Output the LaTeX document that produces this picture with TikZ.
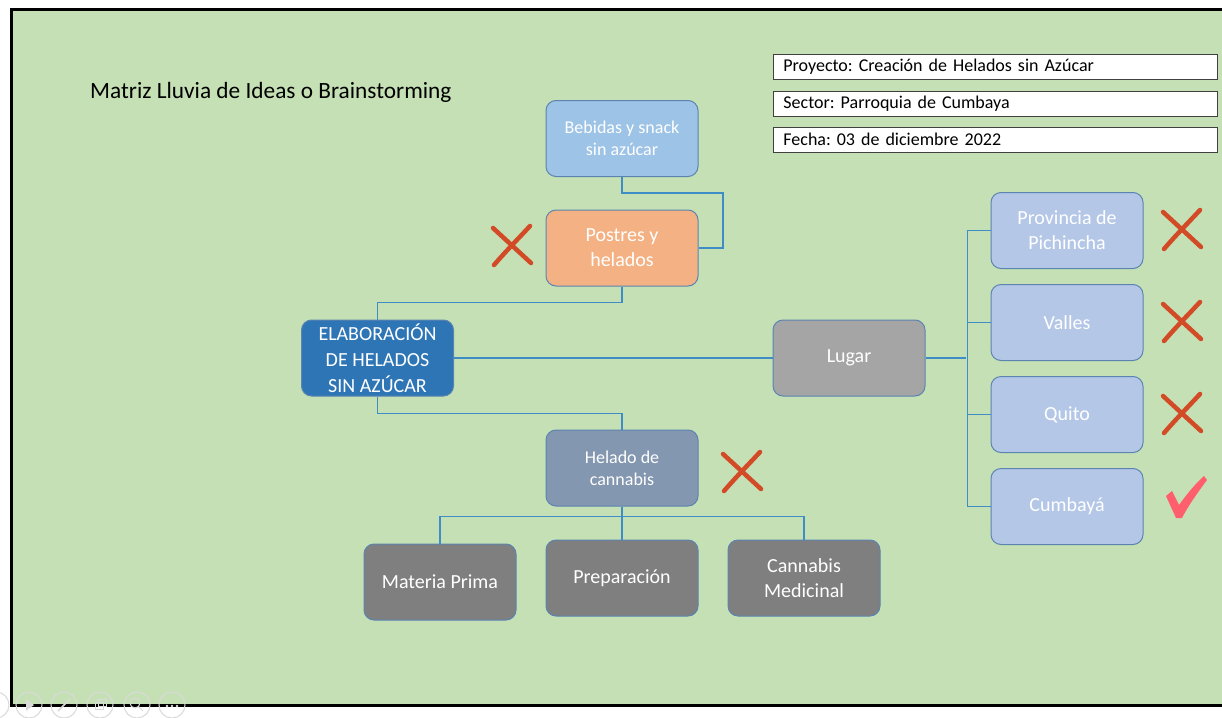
\documentclass[tikz,border=0pt]{standalone}
\usepackage{fontspec}
\setmainfont{Carlito}
\usetikzlibrary{calc}

\definecolor{slide}{HTML}{C5E0B4}
\definecolor{edgeblue}{HTML}{5B84B1}
\definecolor{linkblue}{HTML}{3E8DC6}
\definecolor{fillBebidas}{HTML}{9DC3E6}
\definecolor{fillPostres}{HTML}{F4B183}
\definecolor{fillMain}{HTML}{2E75B6}
\definecolor{fillLugar}{HTML}{A5A5A5}
\definecolor{fillHelado}{HTML}{8497B0}
\definecolor{fillDark}{HTML}{7F7F7F}
\definecolor{fillPlace}{HTML}{B4C7E7}
\definecolor{crossred}{HTML}{D24A26}
\definecolor{tickred}{HTML}{FF5F6D}
\definecolor{ghost}{HTML}{DADADA}

\tikzset{
  box/.style={draw=edgeblue, line width=1pt, rounded corners=10pt,
    minimum width=152pt, minimum height=76pt, inner sep=2pt,
    text=white, align=center, font=\fontsize{20}{25}\selectfont},
  smallbox/.style={box, font=\fontsize{18}{22}\selectfont},
  infobox/.style={draw=black!75, line width=0.8pt, fill=white, anchor=west,
    text width=424pt, inner xsep=10pt, inner ysep=0pt, minimum height=25pt,
    align=left, font=\fontsize{18}{20}\selectfont},
  conn/.style={draw=linkblue, line width=1.5pt},
  xstroke/.style={draw=crossred, line width=4.5pt, line cap=round},
  cross/.pic={
    \draw[xstroke] (-19,-17) .. controls (-6,-5) and (6,6) .. (19,18);
    \draw[xstroke] (18,-19) .. controls (6,-6) and (-6,6) .. (-18,20);
  },
  tick/.pic={
    \fill[tickred] (-21,-8) -- (-15,-13) -- (-8,1) .. controls (0,-10) and (8,-20) .. (17,-28)
      -- (20,-24) .. controls (8,-8) and (0,4) .. (-5,14) -- (-11,14) -- cycle;
  },
  ghostbtn/.style={draw=ghost, line width=1pt},
}

\begin{document}
\frenchspacing
\begin{tikzpicture}[x=1pt, y=-1pt]
\useasboundingbox (0,0) rectangle (1222,717);
\fill[white] (0,0) rectangle (1222,717);

% slide area
\fill[slide] (11,10) rectangle (1222,705);
\draw[black, line width=3pt] (1222,10) -- (11,10) -- (11,705) -- (1222,705);

% presentation toolbar
\draw[ghostbtn] (-4,705) circle (13);
\foreach \cx in {29,64,100,137,172} { \draw[ghostbtn] (\cx,705) circle (13); }
\fill[ghost] (26,699) -- (34,705) -- (26,711) -- cycle;
\draw[ghost, line width=1.5pt] (58,711) -- (70,699);
\draw[ghost, line width=1pt] (95,702) rectangle (103,709) (98,699) rectangle (106,706);
\draw[ghost, line width=1pt] (135,703) circle (5) (139,707) -- (143,711);
\foreach \dx in {-5,0,5} { \fill[ghost] (172+\dx,706) circle (1.3); }

% title
\node[anchor=west, inner xsep=0pt, font=\fontsize{23.3}{27}\selectfont] (title) at (90,92)
  {Matriz Lluvia de Ideas o Brainstorming};

% project data
\node[infobox] (proyecto) at (773,67) {Proyecto: Creación de Helados sin Azúcar};
\node[infobox] (sector) at (773,103.5) {Sector: Parroquia de Cumbaya};
\node[infobox] (fecha) at (773,139.5) {Fecha: 03 de diciembre 2022};

% idea boxes
\node[smallbox, fill=fillBebidas] (bebidas) at (622,138.5) {Bebidas y snack\\sin azúcar};
\node[box, fill=fillPostres] (postres) at (622,248) {Postres y\\helados};
\node[box, fill=fillMain, font=\fontsize{20}{26}\selectfont] (elab) at (377.5,358)
  {ELABORACIÓN\\DE HELADOS\\SIN AZÚCAR};
\node[box, fill=fillLugar] (lugar) at (849,358) {Lugar};
\node[smallbox, fill=fillHelado] (helado) at (622,468) {Helado de\\cannabis};
\node[box, fill=fillDark] (materia) at (440,582) {Materia Prima};
\node[box, fill=fillDark] (prep) at (622,578) {Preparación};
\node[box, fill=fillDark] (cannabis) at (804,578) {Cannabis\\Medicinal};

\node[box, fill=fillPlace] (prov) at (1067,230.5) {Provincia de\\Pichincha};
\node[box, fill=fillPlace] (valles) at (1067,322.5) {Valles};
\node[box, fill=fillPlace] (quito) at (1067,414.5) {Quito};
\node[box, fill=fillPlace] (cumbaya) at (1067,506.5) {Cumbayá};

% connectors
\draw[conn] (bebidas.south) -- ++(0,16) -- ++(101,0) |- (postres.east);
\draw[conn] (postres.south) -- ++(0,16) -| (elab.north);
\draw[conn] (elab.east) -- (lugar.west);
\draw[conn] (elab.south) -- ++(0,17) -| (helado.north);
\draw[conn] (helado.south) -- ++(0,10) coordinate (hjoin);
\draw[conn] (hjoin) -| (materia.north);
\draw[conn] (hjoin) -| (cannabis.north);
\draw[conn] (hjoin) -- (prep.north);
\draw[conn] (lugar.east) -- ++(40,0);
\draw[conn] (prov.west) -- ++(-23,0) |- (cumbaya.west);
\draw[conn] (valles.west) -- ++(-23,0);
\draw[conn] (quito.west) -- ++(-23,0);

% verdicts
\pic at (512,245) {cross};
\pic at (742,471) {cross};
\pic at (1182,229) {cross};
\pic at (1182,321) {cross};
\pic at (1182,413) {cross};
\pic at (1187,504) {tick};
\end{tikzpicture}
\end{document}
